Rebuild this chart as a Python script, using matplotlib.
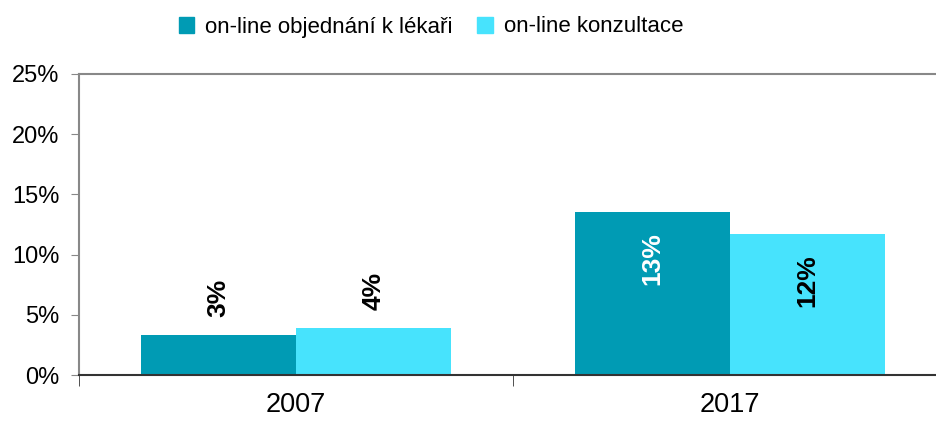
import numpy as np
import matplotlib.pyplot as plt
from matplotlib.patches import Patch

plt.rcParams['font.family'] = ['Liberation Sans', 'DejaVu Sans']

# data
years = ["2007", "2017"]
series_names = ["on-line objednání k lékaři", "on-line konzultace"]
booking = [3.3, 13.5]
consult = [3.9, 11.7]
booking_labels = ["3%", "13%"]
consult_labels = ["4%", "12%"]

c_dark = "#009bb4"
c_light = "#47e3fd"

fig = plt.figure(figsize=(9.37, 4.21), dpi=100)
ax = fig.add_axes([79 / 937, 1 - 375 / 421, 868 / 937, 301 / 421])

x = np.arange(len(years))
w = 0.357
ax.bar(x - w / 2, booking, w, color=c_dark, label=series_names[0])
ax.bar(x + w / 2, consult, w, color=c_light, label=series_names[1])


def put_label(xc, v, txt, color_inside):
    # big bars get the label inside the top, small ones above
    if v > 8:
        ax.text(xc, v - 1.65, txt, rotation=90, ha='center', va='top',
                fontsize=19, fontweight='bold', color=color_inside)
    else:
        ax.text(xc, v + 1.5, txt, rotation=90, ha='center', va='bottom',
                fontsize=19, fontweight='bold', color='black')


for i in range(len(years)):
    put_label(x[i] - w / 2, booking[i], booking_labels[i], 'white')
    put_label(x[i] + w / 2, consult[i], consult_labels[i], 'black')

ax.set_xlim(-0.5, 1.5)
ax.set_ylim(0, 25)
ax.set_yticks(np.arange(0, 26, 5))
ax.set_yticklabels([f"{t}%" for t in range(0, 26, 5)], fontsize=17)
ax.set_xticks(x)
ax.set_xticklabels(years, fontsize=19.5)
ax.tick_params(axis='x', length=0, pad=12)
ax.set_xticks([-0.5, 0.5], minor=True)
ax.tick_params(axis='x', which='minor', length=8, color='#333333', direction='out')
ax.tick_params(axis='y', length=6, color='#888888', direction='out', pad=8)

for s in ['left', 'top', 'right']:
    ax.spines[s].set_color('#888888')
    ax.spines[s].set_linewidth(1.5)
ax.spines['bottom'].set_color('#333333')
ax.spines['bottom'].set_linewidth(1.5)

handles = [Patch(color=c_dark), Patch(color=c_light)]
fig.legend(handles, series_names, loc='center', bbox_to_anchor=(431 / 937, 1 - 27 / 421),
           ncol=2, frameon=False, fontsize=16, handlelength=0.7, handleheight=0.7,
           handletextpad=0.5, columnspacing=1.1)

fig.savefig("out.png", dpi=100)
